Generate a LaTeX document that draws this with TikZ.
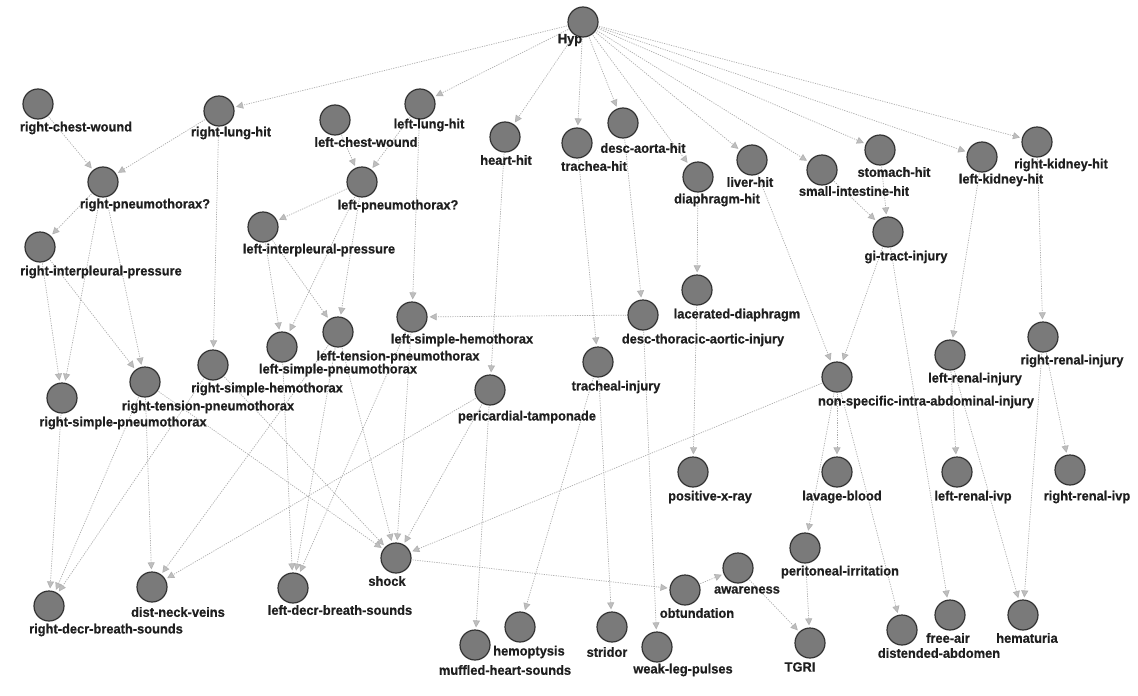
\documentclass[tikz,border=0pt]{standalone}
\usepackage{fontspec}
\setmainfont{Liberation Sans}
\usetikzlibrary{arrows.meta,backgrounds}
\newfontfamily\lblfont{Liberation Sans}[FakeStretch=0.96,FakeBold=0.6]
\begin{document}
\begin{tikzpicture}[x=1pt,y=-1pt,
  nd/.style={circle,draw=black!80,fill=black!52,line width=1.2pt,minimum size=30pt,inner sep=0pt},
  lb/.style={font=\lblfont\bfseries\fontsize{13.4}{14}\selectfont,text=black!88,inner sep=0pt},
  ed/.style={draw=black!32,line width=0.7pt,dash pattern=on 1.2pt off 1.2pt,
    -{Triangle[length=7pt,width=7pt,fill=black!25,color=black!30]},shorten >=2pt,shorten <=1pt}]
\useasboundingbox (0,0) rectangle (1138,696);
\newcommand\NN[5]{\node[nd] (#1) at (#2) {};\node[lb] (#1-l) at (#4) {#3};}
% circle nodes and labels
\NN{hyp}{583,22}{Hyp}{570,40}{}
\NN{rcw}{38,104}{right-chest-wound}{76,128}{}
\NN{rlh}{219,111}{right-lung-hit}{231,133}{}
\NN{lcw}{335,120}{left-chest-wound}{366,142}{}
\NN{llh}{420,104}{left-lung-hit}{429,125}{}
\NN{hh}{505,137}{heart-hit}{506,160}{}
\NN{th}{577,143}{trachea-hit}{594,166}{}
\NN{dah}{623,123}{desc-aorta-hit}{643,148}{}
\NN{dh}{698,177}{diaphragm-hit}{717,200}{}
\NN{lih}{752,160}{liver-hit}{750,182}{}
\NN{sih}{822,170}{small-intestine-hit}{854,191}{}
\NN{sh}{880,150}{stomach-hit}{894,172}{}
\NN{lkh}{982,157}{left-kidney-hit}{1001,180}{}
\NN{rkh}{1037,142}{right-kidney-hit}{1061,165}{}
\NN{rpt}{103,182}{right-pneumothorax?}{145,205}{}
\NN{lpt}{362,182}{left-pneumothorax?}{398,206}{}
\NN{rip}{40,247}{right-interpleural-pressure}{101,272}{}
\NN{lip}{263,227}{left-interpleural-pressure}{319,250}{}
\NN{gi}{888,232}{gi-tract-injury}{906,257}{}
\NN{ld}{697,290}{lacerated-diaphragm}{737,315}{}
\NN{dtai}{643,315}{desc-thoracic-aortic-injury}{703,340}{}
\NN{ti}{598,362}{tracheal-injury}{616,387}{}
\NN{lsh}{412,317}{left-simple-hemothorax}{462,340}{}
\NN{ltp}{338,332}{left-tension-pneumothorax}{398,357}{}
\NN{lsp}{282,347}{left-simple-pneumothorax}{338,370}{}
\NN{rsh}{213,365}{right-simple-hemothorax}{267,389}{}
\NN{rtp}{145,382}{right-tension-pneumothorax}{208,407}{}
\NN{rsp}{62,398}{right-simple-pneumothorax}{123,423}{}
\NN{pt}{490,390}{pericardial-tamponade}{527,417}{}
\NN{nsi}{837,377}{non-specific-intra-abdominal-injury}{926,402}{}
\NN{lri}{950,355}{left-renal-injury}{975,379}{}
\NN{rri}{1043,337}{right-renal-injury}{1072,361}{}
\NN{pxr}{693,472}{positive-x-ray}{710,497}{}
\NN{lbl}{837,472}{lavage-blood}{842,497}{}
\NN{lrv}{957,472}{left-renal-ivp}{973,497}{}
\NN{rrv}{1070,470}{right-renal-ivp}{1087,497}{}
\NN{pi}{805,548}{peritoneal-irritation}{840,572}{}
\NN{aw}{738,568}{awareness}{747,590}{}
\NN{ob}{685,590}{obtundation}{697,613}{}
\NN{st}{612,627}{stridor}{607,652}{}
\NN{wlp}{657,647}{weak-leg-pulses}{683,670}{}
\NN{tgri}{810,643}{TGRI}{800,667}{}
\NN{da}{902,630}{distended-abdomen}{939,653}{}
\NN{fa}{950,615}{free-air}{948,638}{}
\NN{hem}{1023,615}{hematuria}{1027,638}{}
\NN{hp}{520,627}{hemoptysis}{529,652}{}
\NN{mhs}{475,645}{muffled-heart-sounds}{505,670}{}
\NN{sk}{396,558}{shock}{387,581}{}
\NN{ldb}{293,588}{left-decr-breath-sounds}{340,610}{}
\NN{dnv}{152,587}{dist-neck-veins}{178,612}{}
\NN{rdb}{49,606}{right-decr-breath-sounds}{106,630}{}
% connectors
\begin{scope}[on background layer]
\fill[white] (0,0) rectangle (1138,696);
\foreach \a/\b in {hyp/rlh,hyp/llh,hyp/hh,hyp/th,hyp/dah,hyp/dh,hyp/lih,hyp/sih,hyp/sh,hyp/lkh,hyp/rkh,
  rcw/rpt,rlh/rpt,lcw/lpt,llh/lpt,rpt/rip,lpt/lip,rpt/rsp,rip/rsp,rpt/rtp,rip/rtp,lpt/lsp,lip/lsp,lpt/ltp,lip/ltp,
  rlh/rsh,llh/lsh,hh/pt,th/ti,dah/dtai,dh/ld,sh/gi,sih/gi,lkh/lri,rkh/rri,lih/nsi,gi/nsi,gi/fa,
  lri/lrv,rri/rrv,lri/hem,rri/hem,nsi/lbl,nsi/pi,nsi/da,nsi/sk,ld/pxr,pi/tgri,aw/tgri,ob/aw,sk/ob,
  ti/hp,ti/st,pt/mhs,dtai/wlp,dtai/lsh,pt/sk,rsh/sk,lsh/sk,rtp/sk,ltp/sk,pt/dnv,rtp/dnv,ltp/dnv,
  rsp/rdb,rtp/rdb,rsh/rdb,lsp/ldb,ltp/ldb,lsh/ldb}
  \draw[ed] (\a) -- (\b);
\end{scope}
\end{tikzpicture}
\end{document}
